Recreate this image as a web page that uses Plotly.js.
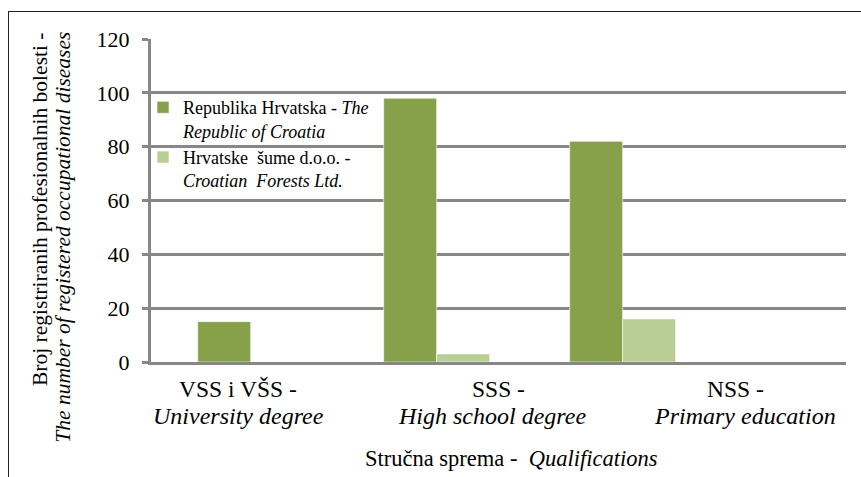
<!DOCTYPE html>
<html><head><meta charset="utf-8">
<script src="https://cdn.plot.ly/plotly-3.0.1.min.js"></script>
<style>
body{margin:0;background:#fff;position:relative}
#chart{width:861px;height:477px}
#frame{position:absolute;left:8px;top:11px;width:860px;height:470px;border-top:1.5px solid #222;border-left:1.5px solid #222;pointer-events:none}
</style>
</head><body><div id="chart"></div><div id="frame"></div>
<script>
// ---- data ----
const categories = ['VSS i VŠS', 'SSS', 'NSS'];
const tickLine1 = ['VSS i VŠS -', 'SSS -', 'NSS -'];
const tickLine2 = ['University degree', 'High school degree', 'Primary education'];
const seriesNames = ['Republika Hrvatska - <i>The</i><br><i>Republic of Croatia</i>',
                     'Hrvatske  šume d.o.o. -<br><i>Croatian  Forests Ltd.</i>'];
const croatia = [15, 98, 82];
const forests = [0, 3, 16];
const yTickVals = [0, 20, 40, 60, 80, 100, 120];
const xTitle = 'Stručna sprema -  <i>Qualifications</i>';
const yTitle1 = 'Broj registriranih profesionalnih bolesti -';
const yTitle2 = '<i>The number of registered occupational diseases</i>';

// ---- style / layout ----
const FONT = 'Liberation Serif';
const GRID = '#878787';
const colors = ['#86A14A', '#B8CE94'];
const row1X = [0.1252, 0.5007, 0.8417];
const row2X = [0.1252, 0.4906, 0.8547];

const traces = [
  {type: 'bar', x: categories, y: croatia, name: seriesNames[0], legendgroup: 'a',
   marker: {color: colors[0], line: {color: 'rgba(255,255,255,0.6)', width: 1}}},
  {type: 'bar', x: categories, y: forests, name: seriesNames[1], legendgroup: 'b',
   marker: {color: colors[1], line: {color: 'rgba(255,255,255,0.6)', width: 1}}}
];

const annotations = [];
categories.forEach((c, i) => {
  annotations.push({xref: 'paper', yref: 'paper', x: row1X[i], y: -0.0836, xanchor: 'center', yanchor: 'middle',
    text: tickLine1[i], showarrow: false, font: {family: FONT, size: 23.5, color: '#000'}});
  annotations.push({xref: 'paper', yref: 'paper', x: row2X[i], y: -0.1687, xanchor: 'center', yanchor: 'middle',
    text: '<i>' + tickLine2[i] + '</i>', showarrow: false, font: {family: FONT, size: 24, color: '#000'}});
});
annotations.push({xref: 'paper', yref: 'paper', x: 0.5194, y: -0.3003, xanchor: 'center', yanchor: 'middle',
  text: xTitle, showarrow: false, font: {family: FONT, size: 22.5, color: '#000'}});
annotations.push({xref: 'paper', yref: 'paper', x: -0.1597, y: 0.4706, xanchor: 'center', yanchor: 'middle',
  text: yTitle1, textangle: -90, showarrow: false, font: {family: FONT, size: 21.5, color: '#000'}});
annotations.push({xref: 'paper', yref: 'paper', x: -0.1266, y: 0.385, xanchor: 'center', yanchor: 'middle',
  text: yTitle2, textangle: -90, showarrow: false, font: {family: FONT, size: 21.5, color: '#000'}});

const layout = {
  width: 861, height: 477,
  margin: {l: 151, r: 15, t: 39, b: 115, pad: 0},
  paper_bgcolor: '#fff', plot_bgcolor: '#fff',
  font: {family: FONT, size: 21, color: '#000'},
  barmode: 'group', bargap: 0.43, bargroupgap: 0,
  showlegend: true,
  legend: {x: -0.0115, y: 0.845, xanchor: 'left', yanchor: 'top', bgcolor: 'rgba(0,0,0,0)',
           font: {family: FONT, size: 18, color: '#000'}, valign: 'top', tracegroupgap: 8,
           traceorder: 'normal'},
  xaxis: {type: 'category', range: [-0.536, 3.201], showticklabels: false, ticks: '',
          showgrid: false, zeroline: false, showline: true, linecolor: GRID, linewidth: 3, fixedrange: true},
  yaxis: {range: [0, 120], tickvals: yTickVals, ticks: 'outside', ticklen: 6, tickwidth: 3, tickcolor: GRID,
          showline: true, linecolor: GRID, linewidth: 3, showgrid: true, gridcolor: GRID, gridwidth: 3,
          zeroline: false, tickfont: {family: FONT, size: 22, color: '#000'}, ticklabelstandoff: 8, fixedrange: true},
  annotations: annotations
};

Plotly.newPlot('chart', traces, layout, {displayModeBar: false, staticPlot: true});
</script>
</body></html>
